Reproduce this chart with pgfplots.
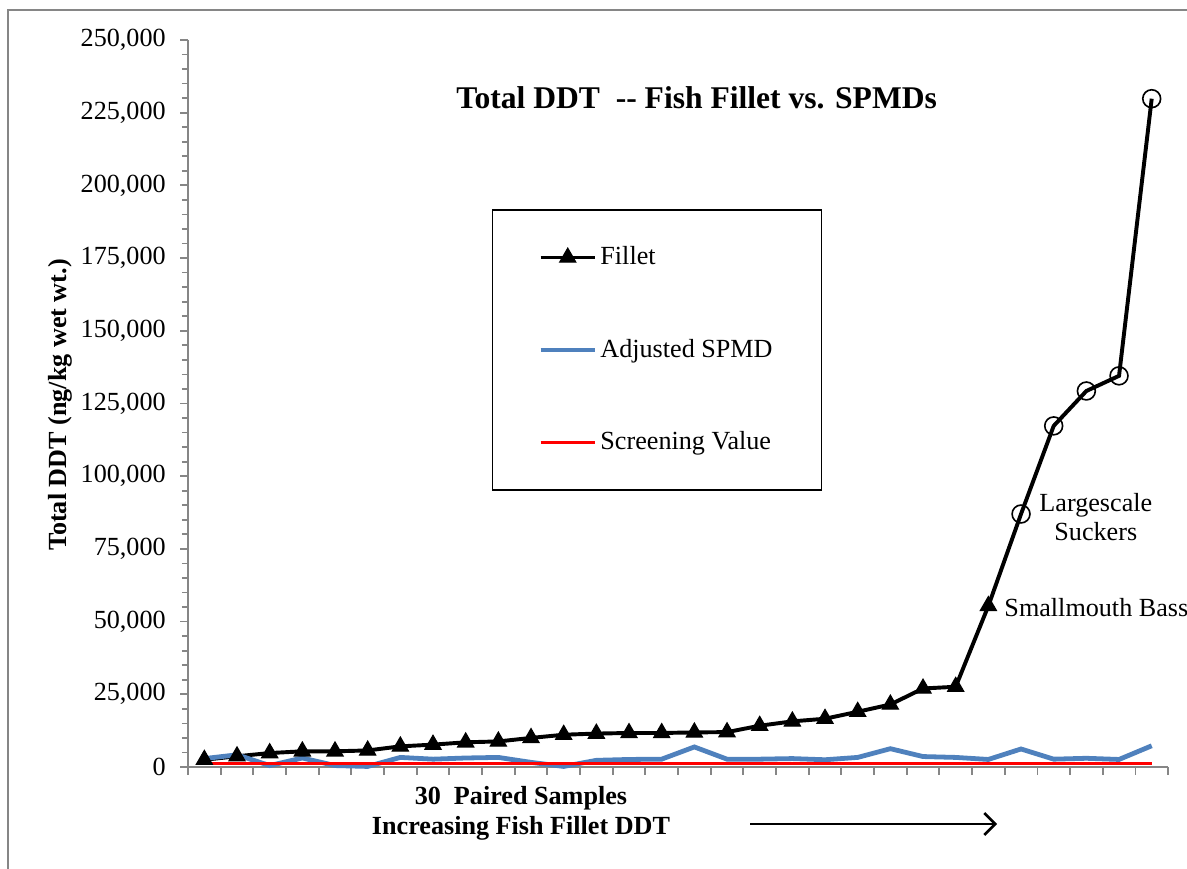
\documentclass[border=0pt]{standalone}
\usepackage{pgfplots}
\pgfplotsset{compat=1.18}
\usepackage{pgfplotstable}
\usepackage{fontspec}
\setmainfont{Liberation Serif}
\usetikzlibrary{arrows.meta}
\definecolor{spmdblue}{HTML}{4F81BD}
\definecolor{axgray}{HTML}{868686}

\pgfplotstableread{
x fillet spmd screen
1 2500 2900 1200
2 3700 4200 1200
3 4800 500 1200
4 5400 3100 1200
5 5400 500 1200
6 5700 200 1200
7 7100 3300 1200
8 7700 2700 1200
9 8500 3100 1200
10 8800 3300 1200
11 10000 1600 1200
12 11100 200 1200
13 11500 2300 1200
14 11700 2600 1200
15 11700 2700 1200
16 11900 6900 1200
17 12000 2700 1200
18 14200 2700 1200
19 15700 2900 1200
20 16600 2500 1200
21 19000 3300 1200
22 21500 6300 1200
23 27000 3600 1200
24 27600 3300 1200
25 55400 2600 1200
26 87000 6200 1200
27 117300 2700 1200
28 129300 3000 1200
29 134500 2600 1200
30 229800 7300 1200
}\datatable

\begin{document}
\begin{tikzpicture}
\useasboundingbox (0,0) rectangle (544.8pt,398.4pt);
\clip (0,0) rectangle (544.8pt,398.4pt);
\draw[axgray, line width=0.7pt] (3.67pt,-10pt) rectangle (570pt,393.8pt);
\begin{axis}[
  at={(86.29pt,46.36pt)}, anchor=south west,
  scale only axis, width=449.8pt, height=333.7pt,
  xmin=0.5, xmax=30.5, ymin=0, ymax=250000,
  axis x line=bottom, axis y line=left,
  axis line style={-, axgray, line width=0.75pt},
  xtick={0.5,1.5,2.5,3.5,4.5,5.5,6.5,7.5,8.5,9.5,10.5,11.5,12.5,13.5,14.5,15.5,16.5,17.5,18.5,19.5,20.5,21.5,22.5,23.5,24.5,25.5,26.5,27.5,28.5,29.5,30.5},
  xticklabels={},
  ytick={0,25000,...,250000}, minor y tick num=4,
  tick style={axgray, line width=0.8pt}, tick align=outside,
  major tick length=3.5pt, minor tick length=2.8pt,
  scaled y ticks=false,
  yticklabel={\pgfmathprintnumber[fixed, 1000 sep={,}, assume math mode=true]{\tick}},
  tick label style={font=\fontsize{12}{14}\selectfont},
  yticklabel style={xshift=-3.2pt},
  clip=false,
  legend cell align=left,
  legend image code/.code={\draw[#1, mark indices={2}] plot coordinates {(0pt,0pt)(12.4pt,0pt)(24.8pt,0pt)};},
  legend style={at={(0.310,0.7675)}, anchor=north west, draw=black, line width=0.7pt,
    inner xsep=21pt, inner ysep=15pt, row sep=28.6pt,
    font=\fontsize{12}{14}\selectfont,
    nodes={inner xsep=1.5pt}},
]
\addplot[black, line width=1.8pt, mark=triangle*, mark size=4.3pt,
  mark indices={1,2,...,25}, mark options={solid, fill=black, line width=0.5pt}]
  table[x=x, y=fillet]{\datatable};
\addlegendentry{Fillet}
\addplot[spmdblue, line width=2.2pt, no markers] table[x=x, y=spmd]{\datatable};
\addlegendentry{Adjusted SPMD}
\addplot[red, line width=1.6pt, no markers] table[x=x, y=screen]{\datatable};
\addlegendentry{Screening Value}
\addplot[black, only marks, mark=o, mark size=4.1pt, mark options={line width=0.75pt},
  mark indices={26,27,28,29,30}, forget plot] table[x=x, y=fillet]{\datatable};
\node[font=\bfseries\fontsize{14.5}{17}\selectfont] at (rel axis cs:0.519,0.920)
  {Total DDT\ \ -{}- Fish Fillet vs. SPMDs};
\node[align=center, inner sep=0pt, font=\fontsize{12}{13}\selectfont] at (axis cs:28.29,86000) {Largescale\\Suckers};
\node[anchor=west, inner sep=0pt, font=\fontsize{12}{14}\selectfont] at (axis cs:25.48,55000) {Smallmouth Bass};
\end{axis}
\node[rotate=90, font=\bfseries\fontsize{12}{14}\selectfont] at (27.5pt,212.5pt) {Total DDT (ng/kg wet wt.)};
\node[align=center, font=\bfseries\fontsize{12}{13.8}\selectfont] at (239.1pt,25.2pt) {30\ \ Paired Samples\\Increasing Fish Fillet DDT};
\draw[line width=1.2pt, -{Straight Barb[length=5pt, width=10pt]}] (344.3pt,20.2pt) -- (457.6pt,20.2pt);
\end{tikzpicture}
\end{document}
